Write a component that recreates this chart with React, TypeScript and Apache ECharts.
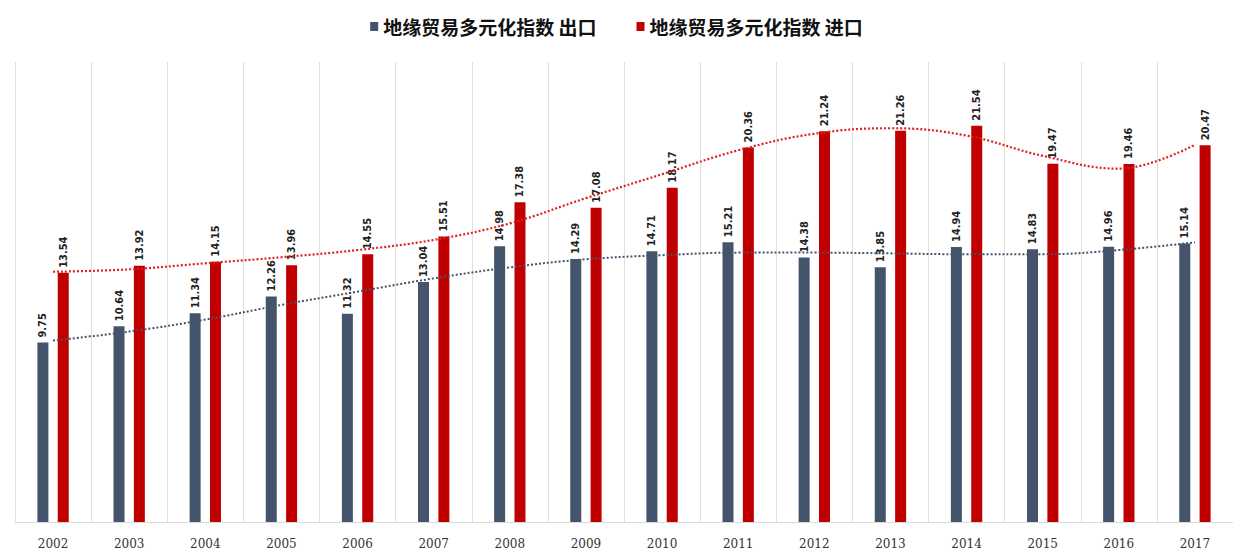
import React, { useEffect, useRef } from "react";
import * as echarts from "echarts";

const years = ["2002","2003","2004","2005","2006","2007","2008","2009","2010","2011","2012","2013","2014","2015","2016","2017"];
const exportValues = [9.75, 10.64, 11.34, 12.26, 11.32, 13.04, 14.98, 14.29, 14.71, 15.21, 14.38, 13.85, 14.94, 14.83, 14.96, 15.14];
const importValues = [13.54, 13.92, 14.15, 13.96, 14.55, 15.51, 17.38, 17.08, 18.17, 20.36, 21.24, 21.26, 21.54, 19.47, 19.46, 20.47];
const exportTrend = [9.86, 10.35, 11.0, 11.8, 12.52, 13.24, 13.84, 14.28, 14.5, 14.64, 14.64, 14.6, 14.55, 14.55, 14.78, 15.2];
const importTrend = [13.6, 13.73, 14.06, 14.39, 14.78, 15.33, 16.23, 17.6, 18.9, 20.2, 21.1, 21.4, 21.0, 19.9, 19.2, 20.5];
const exportName = "地缘贸易多元化指数 出口";
const importName = "地缘贸易多元化指数 进口";

export default function App() {
  const ref = useRef<HTMLDivElement>(null);
  useEffect(() => {
    if (!ref.current) return;
    const chart = echarts.init(ref.current, null, { renderer: "svg" });
    const label = {
      show: true,
      position: "top",
      rotate: 90,
      align: "left",
      verticalAlign: "middle",
      distance: 5,
      fontSize: 11,
      fontWeight: "bold",
      color: "#222",
      fontFamily: "DejaVu Sans Condensed",
    };
    chart.setOption({
      animation: false,
      backgroundColor: "#fff",
      legend: {
        data: [exportName, importName],
        top: 12,
        left: "center",
        itemWidth: 8,
        itemHeight: 9,
        itemGap: 40,
        icon: "rect",
        textStyle: { fontSize: 19, fontWeight: "bold", color: "#111", fontFamily: "Noto Sans CJK SC" },
      },
      grid: { left: 15, width: 1221, top: 62, height: 460, containLabel: false },
      xAxis: {
        type: "category",
        data: years,
        boundaryGap: true,
        axisLine: { show: true, lineStyle: { color: "#d9d9d9", width: 1 } },
        axisTick: { show: false },
        axisLabel: { fontSize: 12, color: "#333", margin: 16, fontFamily: "DejaVu Serif" },
        splitLine: { show: true, lineStyle: { color: "#e0e0e0", width: 1 } },
      },
      yAxis: {
        type: "value",
        min: 0,
        max: 25,
        show: false,
        splitLine: { show: false },
      },
      series: [
        {
          name: exportName,
          type: "bar",
          data: exportValues,
          barWidth: 11,
          barGap: "85%",
          itemStyle: { color: "#44546a" },
          label,
        },
        {
          name: importName,
          type: "bar",
          data: importValues,
          barWidth: 11,
          itemStyle: { color: "#c00000" },
          label,
        },
        {
          name: "出口趋势",
          type: "line",
          data: exportTrend,
          smooth: 0.4,
          symbol: "none",
          lineStyle: { color: "#44546a", width: 2, type: [2, 2] },
          z: 5,
        },
        {
          name: "进口趋势",
          type: "line",
          data: importTrend,
          smooth: 0.4,
          symbol: "none",
          lineStyle: { color: "#e02020", width: 2.2, type: [2, 2] },
          z: 5,
        },
      ],
    });
    return () => chart.dispose();
  }, []);
  return <div ref={ref} style={{ position: "fixed", left: 0, top: 0, width: 1233, height: 557 }} />;
}
